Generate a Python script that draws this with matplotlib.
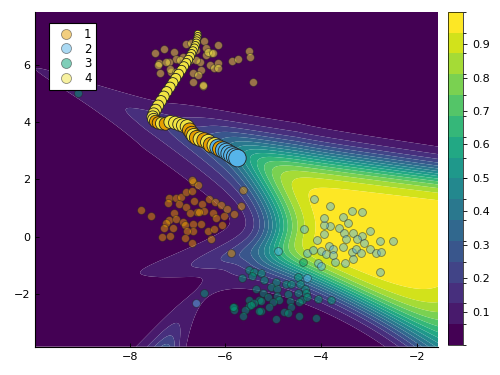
import numpy as np
import matplotlib
matplotlib.use("Agg")
import matplotlib.pyplot as plt
from matplotlib.colors import ListedColormap, BoundaryNorm
from matplotlib.lines import Line2D

# ---------------- data ----------------
class_labels = ["1", "2", "3", "4"]
class_colors = ["#E69F00", "#56B4E9", "#009E73", "#F0E442"]

c1_x = [-7.76, -7.56, -7.18, -7.03, -6.92, -6.82, -6.70, -6.68, -6.58, -7.20, -6.98, -6.82, -6.65,
        -6.49, -6.35, -6.21, -6.09, -5.96, -5.83, -6.04, -6.26, -6.45, -6.60, -6.75, -7.08, -7.17,
        -7.03, -7.24, -7.29, -7.10, -6.89, -6.85, -6.67, -6.67, -6.81, -6.51, -6.55, -6.37, -6.25,
        -6.19, -6.08, -7.32, -7.15, -6.85, -6.71, -6.30, -5.64, -5.67, -5.88, -6.71]
c1_y = [0.93, 0.73, 1.36, 1.36, 1.40, 1.55, 1.61, 1.92, 1.80, 1.17, 1.14, 1.05, 1.26,
        1.14, 1.30, 1.22, 1.11, 0.96, 0.79, 0.73, 0.82, 0.90, 0.85, 0.82, 0.84, 0.58,
        0.61, 0.47, 0.29, 0.29, 0.52, 0.41, 0.44, 0.20, 0.21, 0.43, 0.86, 0.21, 0.26,
        0.64, 0.41, -0.02, 0.02, -0.06, -0.21, -0.08, 1.63, 1.07, -0.56, 1.98]

c2_x = [-4.15, -3.81, -3.35, -3.15, -3.55, -3.44, -3.63, -3.82, -3.95, -4.37, -3.52, -3.33, -3.95,
        -3.14, -2.98, -3.49, -3.26, -3.10, -2.78, -2.49, -4.08, -3.83, -3.54, -3.35, -3.28, -3.16,
        -2.98, -2.86, -2.76, -3.76, -4.30, -4.18, -4.01, -3.90, -4.06, -4.00, -3.72, -3.50, -3.33,
        -3.75, -4.90, -2.78, -4.29, -6.61, -3.94]
c2_y = [1.33, 1.07, 0.89, 0.86, 0.68, 0.47, 0.31, 0.37, 0.41, 0.26, 0.14, 0.12, 0.09,
        0.02, 0.21, -0.09, -0.07, -0.23, -0.14, -0.16, -0.12, -0.32, -0.35, -0.52, -0.44, -0.58,
        -0.43, -0.56, -0.52, -0.44, -0.56, -0.46, -0.49, -0.60, -0.91, -1.01, -0.89, -0.93, -0.79,
        -0.64, -0.49, -1.23, -1.43, -2.30, 0.64]

c3_x = [-5.50, -5.40, -5.26, -5.44, -5.65, -5.19, -4.48, -4.38, -4.74, -4.63, -4.44, -4.94, -5.05,
        -5.36, -4.33, -4.31, -4.49, -4.69, -4.92, -5.22, -5.12, -4.92, -4.88, -4.65, -4.40, -4.29,
        -4.47, -4.06, -3.80, -5.30, -5.50, -5.50, -5.26, -5.40, -5.01, -4.63, -4.77, -4.70, -5.10,
        -5.26, -5.60, -5.83, -5.83, -5.64, -4.94, -4.46, -4.11, -6.44, -5.85, -5.47, -5.29, -9.08]
c3_y = [-1.16, -1.22, -1.28, -1.37, -1.43, -1.51, -1.40, -0.87, -1.64, -1.64, -1.64, -1.60, -1.74,
        -1.83, -1.84, -1.98, -1.98, -2.00, -1.81, -1.95, -2.09, -2.07, -2.21, -2.24, -2.21, -2.12,
        -2.27, -2.17, -2.21, -2.21, -2.21, -2.41, -2.24, -2.30, -2.27, -2.46, -2.64, -2.67, -2.46,
        -2.58, -2.56, -2.46, -2.56, -2.77, -2.88, -2.77, -2.83, -1.98, -2.46, -2.38, -2.58, 5.00]

c4_x = [-7.48, -7.29, -7.08, -6.83, -6.72, -6.44, -6.15, -6.30, -6.40, -7.03, -7.17, -7.39, -7.36,
        -7.13, -6.68, -6.47, -6.54, -6.33, -6.25, -6.16, -5.87, -5.74, -5.50, -5.48, -5.42, -6.40,
        -6.51, -6.75, -6.61, -7.41, -7.24, -7.15, -6.89, -6.37, -6.26, -6.16, -6.58, -6.61, -6.96,
        -7.03, -6.68, -6.47]
c4_y = [6.40, 6.54, 6.46, 6.72, 6.77, 6.84, 6.68, 6.40, 6.34, 6.19, 6.11, 6.07, 5.72,
        5.76, 5.70, 5.26, 6.11, 5.99, 5.88, 6.07, 6.13, 6.21, 6.49, 6.28, 5.40, 6.58,
        5.82, 6.17, 6.52, 5.99, 6.11, 5.84, 6.28, 6.46, 6.40, 5.88, 5.65, 6.17, 6.17,
        5.76, 5.38, 5.30]

# counterfactual path (x, y, predicted class)
path_x = [-6.58, -6.58, -6.59, -6.60, -6.61, -6.63, -6.65, -6.68, -6.71, -6.74, -6.78, -6.82, -6.87,
          -6.92, -6.98, -7.04, -7.10, -7.16, -7.23, -7.29, -7.35, -7.41, -7.46, -7.50, -7.52, -7.50,
          -7.46, -7.40, -7.33, -7.25, -7.15, -7.05, -6.96, -6.88, -6.80, -6.75, -6.70, -6.66, -6.60,
          -6.52, -6.44, -6.36, -6.30, -6.22, -6.16, -6.10, -6.04, -5.98, -5.92, -5.86, -5.80, -5.75]
path_y = [7.08, 7.00, 6.92, 6.84, 6.76, 6.67, 6.58, 6.48, 6.38, 6.28, 6.17, 6.06, 5.94,
          5.81, 5.67, 5.52, 5.37, 5.21, 5.05, 4.89, 4.73, 4.57, 4.42, 4.29, 4.18, 4.09,
          4.02, 3.97, 3.95, 3.94, 4.00, 3.97, 3.92, 3.88, 3.84, 3.72, 3.60, 3.52, 3.45,
          3.40, 3.36, 3.30, 3.20, 3.18, 3.12, 3.06, 3.02, 2.97, 2.90, 2.84, 2.79, 2.74]
path_cls = [4, 4, 4, 4, 4, 4, 4, 4, 4, 4, 4, 4, 4,
            4, 4, 4, 4, 4, 4, 4, 4, 4, 4, 4, 4, 4,
            1, 1, 4, 1, 4, 4, 4, 4, 4, 1, 1, 4, 1,
            4, 1, 4, 1, 4, 2, 1, 2, 2, 2, 2, 2, 2]

# probability surface of the target class: shape knots
top_x = [-5.2, -3.83, -1.56]
top_y = [3.05, 2.72, 2.20]
top_k = [2.6, 2.6, 2.9]
bot_x = [-5.0, -4.46, -3.83, -1.56]
bot_y = [-0.90, -1.20, -1.75, -3.70]
bot_k = [2.5, 2.5, 2.8, 1.35]
tip = (-4.94, 0.40)
limb_up, limb_dn = 0.42, 0.60
armU_x = [-10.0, -8.6, -7.7, -6.8, -5.75, -4.5]
armU_y = [5.85, 4.95, 4.25, 3.70, 2.74, 2.20]
armU_A = [-2.25, -1.90, -1.45, -0.85, -0.10, 0.90]
armU_kdn = [2.0, 1.4, 1.1, 1.1, 1.1, 1.1]
armL_x = [-10.0, -8.6, -7.2, -6.7, -5.8, -4.9]
armL_y = [-1.62, -1.50, -1.28, -1.10, -0.75, -0.40]
armL_A = [-3.6, -2.6, -1.9, -1.45, -0.65, 0.0]

# ---------------- surface ----------------
xlim = (-9.98, -1.56)
ylim = (-3.84, 7.85)
gx = np.linspace(xlim[0], xlim[1], 420)
gy = np.linspace(ylim[0], ylim[1], 420)
X, Y = np.meshgrid(gx, gy)


def sp(z):
    return np.logaddexp(0.0, z)


def curve(kx, ky, deg, xv):
    return np.polyval(np.polyfit(kx, ky, deg), xv)


G_top = curve(top_x, top_k, 1, X) * (curve(top_x, top_y, 2, X) - Y)
slope = np.where(Y > tip[1], limb_up, limb_dn)
xB = tip[0] - slope * (np.sqrt((Y - tip[1]) ** 2 + 0.8 ** 2) - 0.8)
G_left = 3.3 * (X - xB)
G_bot = curve(bot_x, bot_k, 2, X) * (Y - curve(bot_x, bot_y, 2, X))
T1 = 0.8
G_core = -T1 * np.logaddexp(np.logaddexp(-G_top / T1, -G_left / T1), -G_bot / T1)

Ts = 0.15
xc = np.minimum(X, armU_x[-1])
d = Y - curve(armU_x, armU_y, 2, xc)
kdn = np.interp(xc.ravel(), armU_x, armU_kdn).reshape(X.shape)
G_u = (curve(armU_x, armU_A, 2, xc) - 1.5 * np.maximum(X - armU_x[-1], 0)
       - 2.2 * Ts * sp(d / Ts) - kdn * Ts * sp(-d / Ts))

xc = np.minimum(X, armL_x[-1])
d = Y - curve(armL_x, armL_y, 2, xc)
G_l = (curve(armL_x, armL_A, 2, xc) - 1.5 * np.maximum(X - armL_x[-1], 0)
       - 1.7 * Ts * sp(d / Ts) - 4.0 * Ts * sp(-d / Ts))

T2 = 0.35
G = T2 * np.logaddexp(np.logaddexp(G_core / T2, G_u / T2), G_l / T2)
Z = 1.0 / (1.0 + np.exp(-G))

# ---------------- figure ----------------
fig = plt.figure(figsize=(5, 3.75), dpi=100)
ax = fig.add_axes([0.07, 0.0755, 0.806, 0.8933])
cax = fig.add_axes([0.896, 0.08, 0.03, 0.8888])

nb = 16
levels = np.linspace(Z.min(), Z.max(), nb + 1)
cmap = ListedColormap(plt.cm.viridis(np.linspace(0, 1, nb)))
norm = BoundaryNorm(levels, nb)
cf = ax.contourf(X, Y, Z, levels=levels, cmap=cmap, norm=norm, antialiased=True)

groups = [(c1_x, c1_y), (c2_x, c2_y), (c3_x, c3_y), (c4_x, c4_y)]
for (gxs, gys), col in zip(groups, class_colors):
    ax.scatter(gxs, gys, s=32, c=col, alpha=0.5, edgecolors="#222222", linewidths=0.6, zorder=3)

n = len(path_x)
diam_px = 7.0 + 10.5 * np.arange(n) / (n - 1)
sizes = (diam_px * 0.72) ** 2
pcols = [class_colors[c - 1] for c in path_cls]
ax.scatter(path_x, path_y, s=sizes, c=pcols, edgecolors="#222222", linewidths=0.6, zorder=4)

ax.set_xlim(*xlim)
ax.set_ylim(*ylim)
ax.set_xticks([-8, -6, -4, -2])
ax.set_yticks([-2, 0, 2, 4, 6])
ax.tick_params(direction="in", length=3, width=0.6, labelsize=8, colors="black")
for s in ["top", "right"]:
    ax.spines[s].set_visible(False)
for s in ["left", "bottom"]:
    ax.spines[s].set_linewidth(0.8)

handles = [Line2D([], [], marker="o", linestyle="", markersize=7.2, markerfacecolor=c,
                  markeredgecolor="#222222", markeredgewidth=0.6, alpha=0.5) for c in class_colors]
leg = ax.legend(handles, class_labels, loc="upper left", bbox_to_anchor=(0.035, 0.966),
                borderaxespad=0, fontsize=8.5, frameon=True, fancybox=False, framealpha=1,
                edgecolor="black", handletextpad=0.55, borderpad=0.4, labelspacing=0.15,
                handlelength=2.0)
leg.get_frame().set_linewidth(0.8)

cb = fig.colorbar(cf, cax=cax, ticks=[0.1, 0.2, 0.3, 0.4, 0.5, 0.6, 0.7, 0.8, 0.9])
cb.ax.set_yticklabels(["0.1", "0.2", "0.3", "0.4", "0.5", "0.6", "0.7", "0.8", "0.9"])
cb.ax.tick_params(labelsize=8, length=3, width=0.6)
cb.outline.set_linewidth(0.5)

fig.savefig("out.png", dpi=100)
